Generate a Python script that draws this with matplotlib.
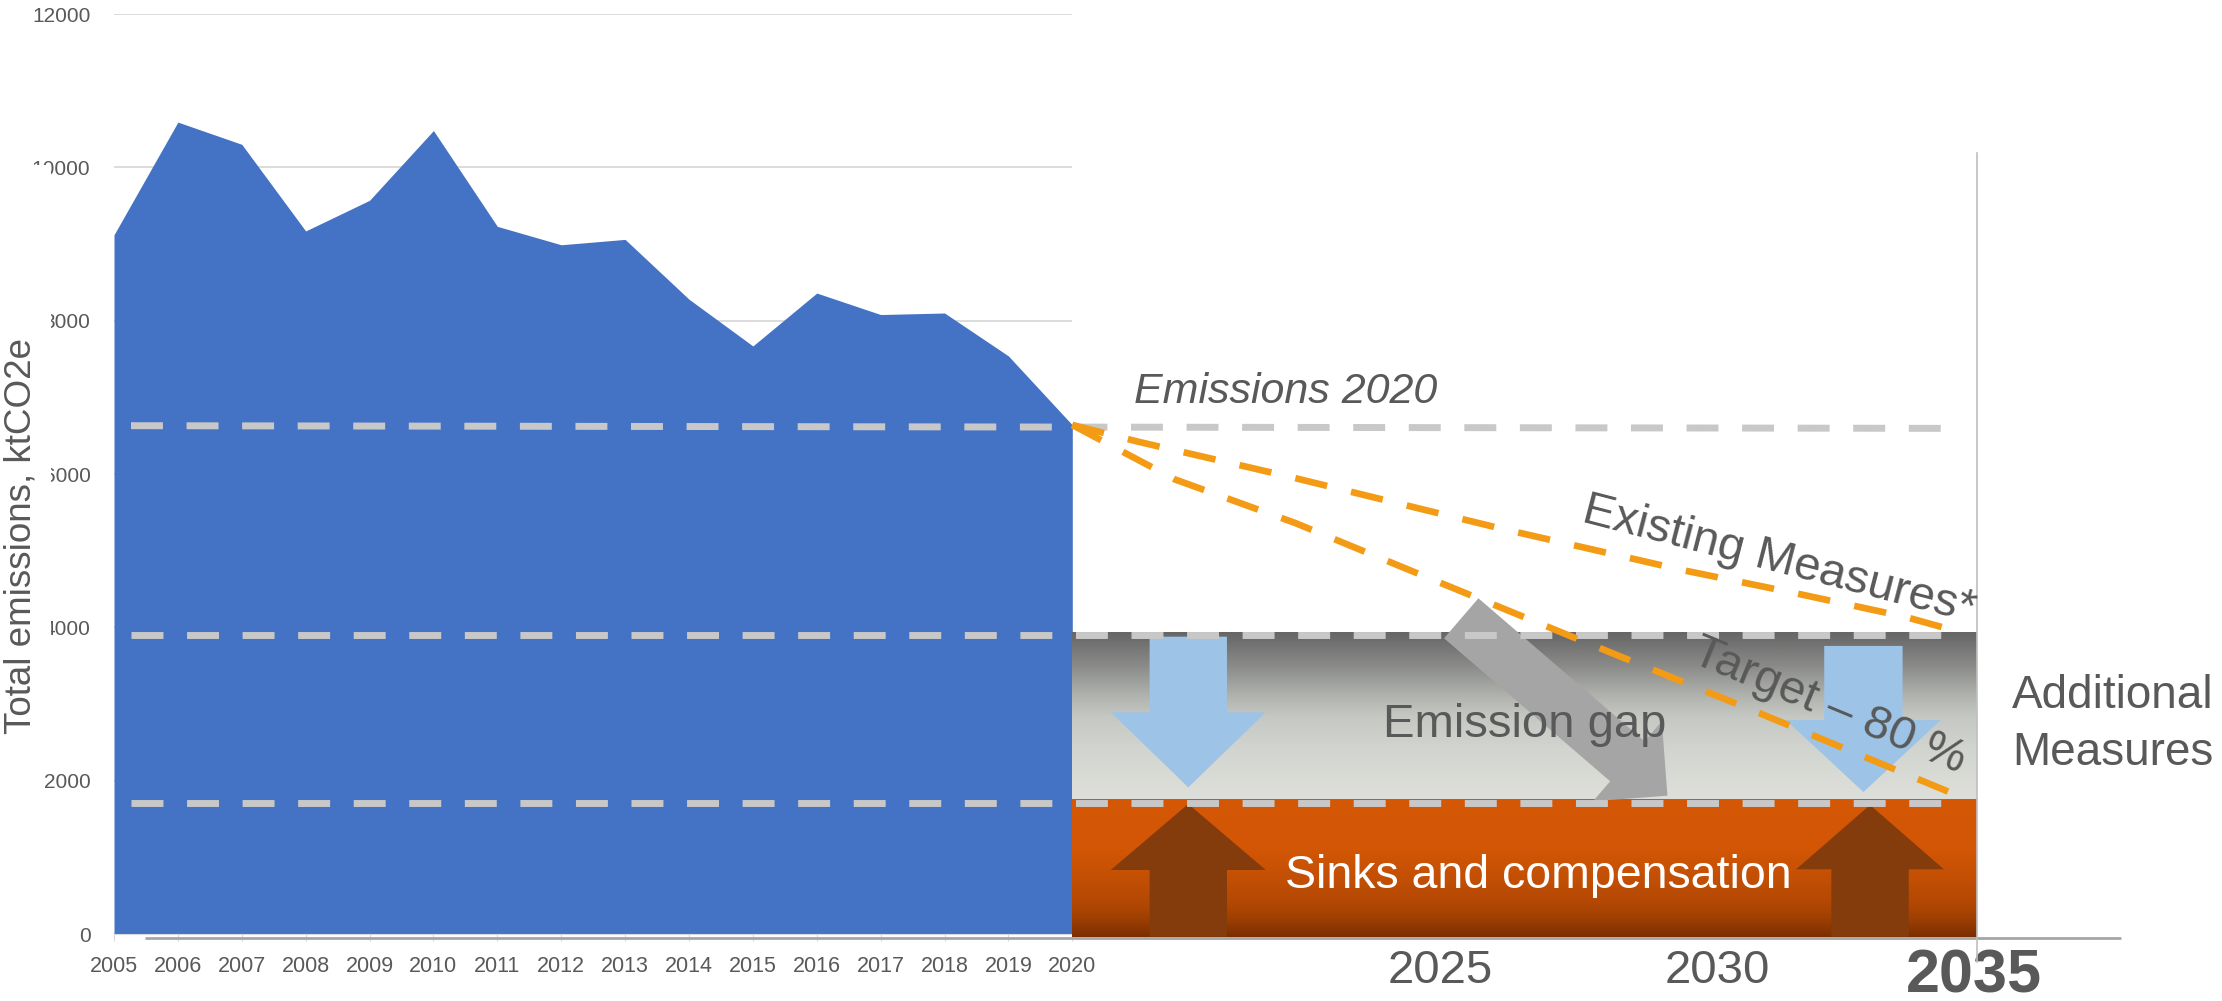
import numpy as np
import matplotlib
matplotlib.use('Agg')
import matplotlib.pyplot as plt
from matplotlib.colors import LinearSegmentedColormap
from matplotlib.patches import Rectangle, FancyArrow

plt.rcParams['font.family'] = ['Liberation Sans', 'DejaVu Sans']

# historical emissions, ktCO2e
years = np.arange(2005, 2021)
emissions = [9120, 10590, 10300, 9170, 9570, 10480, 9230, 8990, 9060, 8280,
             7670, 8360, 8080, 8100, 7540, 6640]

# projection part (hand drawn in the original)
emis2020_x = [2004.39, 2034.64]
emis2020_y = [6630, 6595]
existing_x = [2020, 2021.1, 2023.6, 2027.1, 2030.1, 2032.0, 2033.8, 2034.7]
existing_y = [6640, 6420, 5965, 5290, 4750, 4444, 4139, 3943]
target_x = [2020, 2021.7, 2023.7, 2026.2, 2028.9, 2031.4, 2034.7]
target_y = [6640, 5930, 5360, 4550, 3680, 2880, 1800]
gap_top = 3935
sinks_top = 1760
level_lines = [3905, 1710]

grey = '#595959'

fig = plt.figure(figsize=(22.22, 10.01), dpi=100)
ax = fig.add_axes([114/2222, 67/1001, 958.3/2222, 920/1001])
ax2 = fig.add_axes([114/2222, 0, 2108/2222, 987/1001])
ax2.set_zorder(1)
ax2.patch.set_visible(False)

# ---- excel area chart
ax.fill_between(years, emissions, 0, color='#4472c4', lw=0, zorder=2)
ax.set_xlim(2005, 2020)
ax.set_ylim(0, 12000)
ax.set_yticks(np.arange(0, 12001, 2000))
ax.set_xticks(years)
ax.set_xticklabels([str(y) for y in years])
ax.yaxis.grid(True, color='#d9d9d9', lw=1.3, zorder=0)
ax.set_axisbelow(True)
for s in ['top', 'right', 'left']:
    ax.spines[s].set_visible(False)
ax.spines['bottom'].set_color('#d9d9d9')
ax.tick_params(axis='x', direction='out', length=5, color='#d9d9d9',
               labelsize=15.5, labelcolor=grey, pad=11)
ax.tick_params(axis='y', length=0, labelsize=15, labelcolor=grey, pad=17)

# ---- overlay
ax2.set_xlim(2004.108, 2039.067)
ax2.set_ylim(-874, 12000)
ax2.axis('off')

grad = np.linspace(0, 1, 256).reshape(-1, 1)
gap_cmap = LinearSegmentedColormap.from_list('gap', [
    (0, '#666666'), (0.05, '#6e6e6e'), (0.2, '#8a8b89'), (0.37, '#aeb0ac'),
    (0.5, '#c5c8c2'), (0.7, '#d2d5cf'), (1, '#dedfda')])
sink_cmap = LinearSegmentedColormap.from_list('sink', [
    (0, '#d45806'), (0.13, '#d35705'), (0.37, '#d25605'), (0.61, '#c04e04'),
    (0.78, '#b04603'), (0.88, '#9b3e02'), (1, '#7a2e00')])
ax2.imshow(grad, cmap=gap_cmap, extent=[2020, 2035, sinks_top, gap_top],
           aspect='auto', origin='upper', zorder=1)
ax2.imshow(grad, cmap=sink_cmap, extent=[2020, 2035, -35, sinks_top],
           aspect='auto', origin='upper', zorder=1)

# arrows
blue = '#9dc3e6'
brown = '#843c0c'
ax2.add_patch(FancyArrow(2021.924, 3878, 0, 1913 - 3878, width=1.283, head_width=2.57,
                         head_length=979, length_includes_head=True, color=blue, lw=0, zorder=2))
ax2.add_patch(FancyArrow(2033.12, 3757, 0, 1852 - 3757, width=1.3, head_width=2.566,
                         head_length=939, length_includes_head=True, color=blue, lw=0, zorder=2))
ax2.add_patch(FancyArrow(2021.924, -35, 0, 1696 + 35, width=1.283, head_width=2.57,
                         head_length=861, length_includes_head=True, color=brown, lw=0, zorder=2))
ax2.add_patch(FancyArrow(2033.23, -35, 0, 1683 + 35, width=1.283, head_width=2.45,
                         head_length=839, length_includes_head=True, color=brown, lw=0, zorder=2))
ax2.annotate('', xy=(2029.87, 1804), xytext=(2026.45, 4118),
             arrowprops=dict(arrowstyle='simple,head_length=38,head_width=76,tail_width=38',
                             fc='#a5a5a5', ec='none', shrinkA=0, shrinkB=0, mutation_scale=1),
             zorder=3)

# dashed reference lines
dash_kw = dict(color='#c8c8c8', lw=5, dashes=(4.6, 3.4), dash_capstyle='butt', zorder=4)
ax2.plot(emis2020_x, emis2020_y, **dash_kw)
for lev in level_lines:
    ax2.plot([2004.39, 2034.64], [lev, lev], **dash_kw)

orange_kw = dict(color='#f49b15', lw=4.8, dashes=(4.9, 3.7), dash_capstyle='butt', zorder=5)
ax2.plot(existing_x, existing_y, **orange_kw)
ax2.plot(target_x, target_y, **orange_kw)

# axis lines of the drawing
ax2.plot([2004.627, 2037.396], [-48, -48], color='#a6a6a6', lw=2, zorder=6, solid_capstyle='butt')
ax2.plot([2035.0, 2035.0], [-365, 10186], color='#bfbfbf', lw=1.2, zorder=6)

# texts
ax2.text(2021.03, 6922, 'Emissions 2020', style='italic', fontsize=31, color=grey,
         ha='left', va='baseline', zorder=7)
ax2.text(2031.675, 4722, 'Existing Measures*', fontsize=34, color=grey, rotation=-14.5,
         rotation_mode='anchor', ha='center', va='baseline', zorder=7)
ax2.text(2032.48, 2824, 'Target – 80 %', fontsize=34, color=grey, rotation=-22.5,
         rotation_mode='anchor', ha='center', va='baseline', zorder=7)
ax2.text(2027.507, 2573, 'Emission gap', fontsize=34, color=grey,
         ha='center', va='baseline', zorder=7)
ax2.text(2023.52, 596, 'Sinks and compensation', fontsize=33.5, color='white',
         ha='left', va='baseline', zorder=7)
ax2.text(2035.584, 2944, 'Additional', fontsize=33, color=grey, ha='left', va='baseline')
ax2.text(2035.584, 2204, 'Measures', fontsize=33, color=grey, ha='left', va='baseline')
ax2.text(2026.095, -635, '2025', fontsize=34, color=grey, ha='center', va='baseline')
ax2.text(2030.69, -635, '2030', fontsize=34, color=grey, ha='center', va='baseline')
ax2.text(2034.96, -760, '2035', fontsize=44, fontweight='bold', color=grey,
         ha='center', va='baseline')

# axis title box (its white fill hides part of the tick labels)
fig.patches.append(Rectangle((0, 1 - 700/1001), 51/2222, 535/1001, transform=fig.transFigure,
                             facecolor='white', edgecolor='none', zorder=2))
fig.text(21/2222, 1 - 536/1001, 'Total emissions, ktCO2e', rotation=90, fontsize=26.5,
         color=grey, ha='center', va='center', zorder=3)

fig.savefig('out.png', dpi=100)
